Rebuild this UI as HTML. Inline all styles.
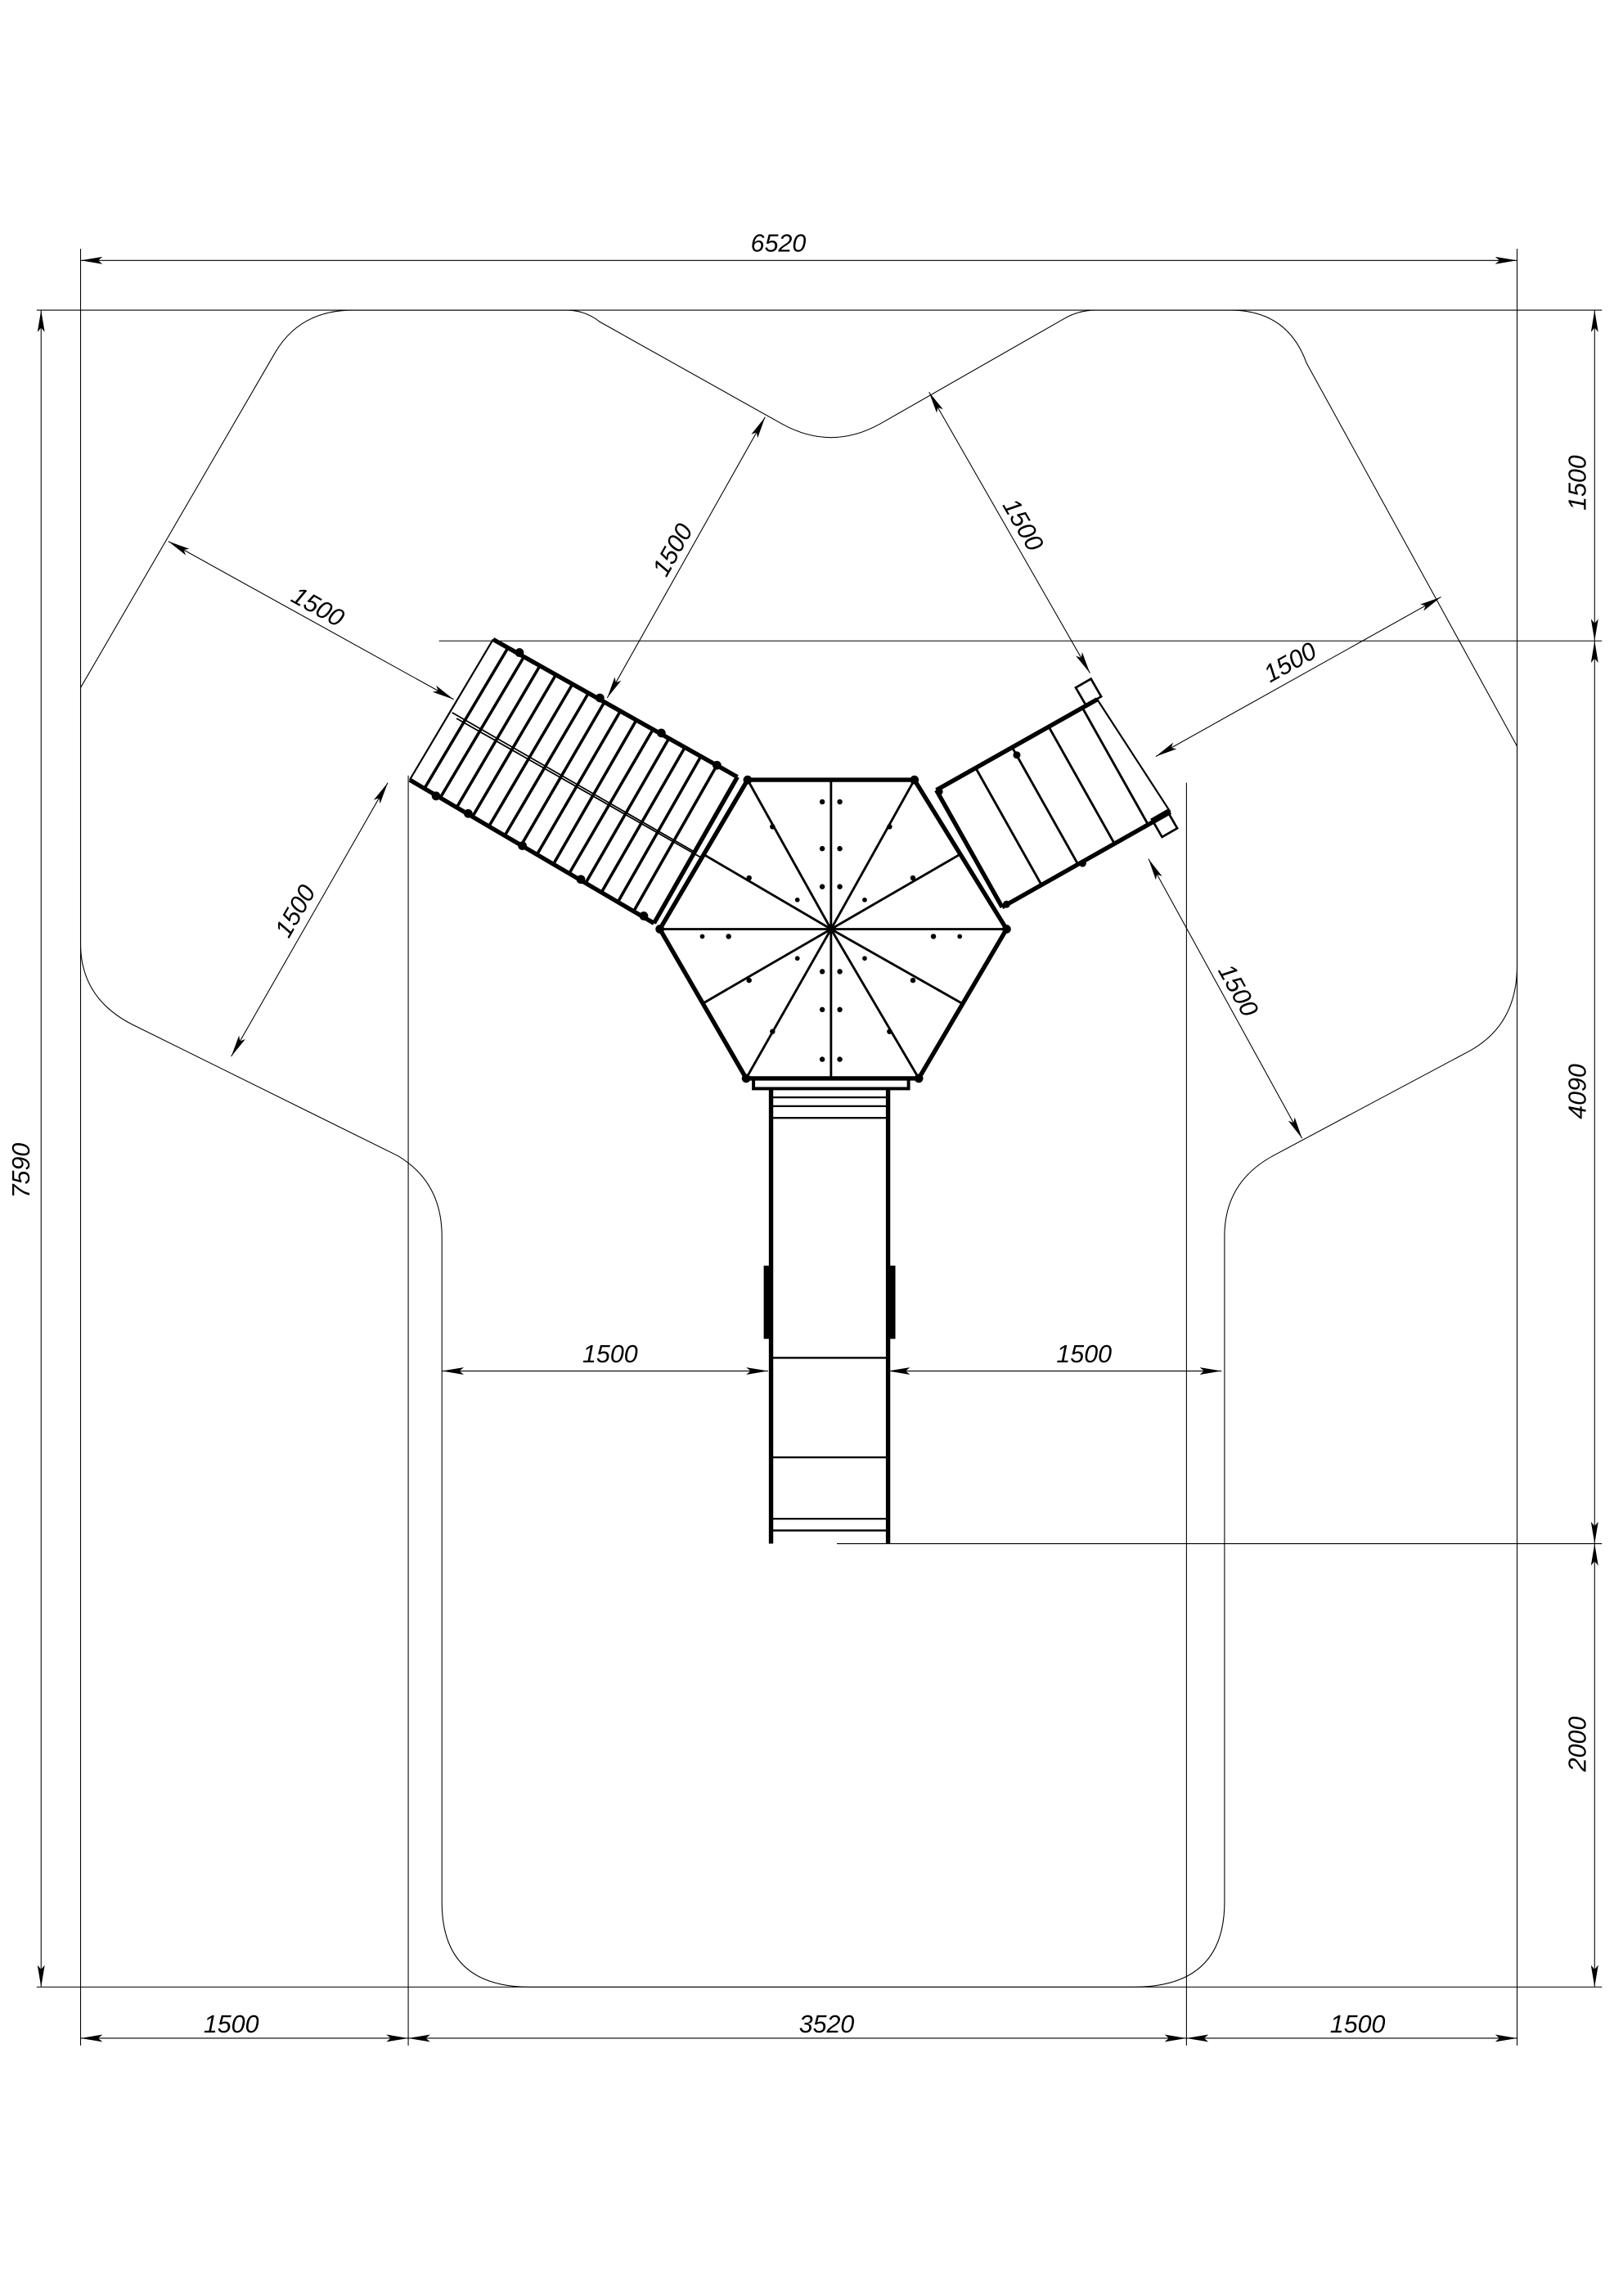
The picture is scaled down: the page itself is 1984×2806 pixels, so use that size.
<!DOCTYPE html>
<html><head><meta charset="utf-8"><style>
html,body{margin:0;padding:0;background:#fff}
svg{display:block}
text{font-family:"Liberation Sans",sans-serif;font-style:italic;font-size:17px;fill:#000}
</style></head><body>
<svg width="1984" height="2806" viewBox="0 0 1100 1556" xmlns="http://www.w3.org/2000/svg">
<defs>
<marker id="a" viewBox="0 0 15 5" refX="15" refY="2.5" markerWidth="15" markerHeight="5" markerUnits="userSpaceOnUse" orient="auto-start-reverse"><path d="M0,0 L15,2.5 L0,5 L3,2.5 Z" fill="#000"/></marker>
</defs>
<g transform="scale(0.9916)">
<g fill="none" stroke="#000" stroke-width="0.6">
<path d="M241,212 L387,212 Q400,212 410,220 L535,290 Q568,308 601,290 L727,218 Q737,212 749,212 L841,212 Q880,212 893,248 L1037,510 L1037,660 Q1037,700 1005,718 L870,790 Q837,808 837,845 L837,1300 Q837,1358 775,1358 L362,1358 Q302,1358 302,1300 L302,845 Q302,808 272,790 L90,700 Q55,682 55,645 L55,470 L188,241 Q205,212 241,212 Z"/>
<line x1="25" y1="212" x2="1095" y2="212"/>
<line x1="25" y1="1358" x2="1095" y2="1358"/>
<line x1="55" y1="170" x2="55" y2="1398"/>
<line x1="1037" y1="170" x2="1037" y2="1398"/>
<line x1="279" y1="530" x2="279" y2="1398"/>
<line x1="811" y1="535" x2="811" y2="1398"/>
<line x1="300" y1="438" x2="1095" y2="438"/>
<line x1="572" y1="1055" x2="1095" y2="1055"/>
<g marker-start="url(#a)" marker-end="url(#a)">
<line x1="55" y1="178" x2="1037" y2="178"/>
<line x1="28" y1="212" x2="28" y2="1358"/>
<line x1="1090" y1="212" x2="1090" y2="438"/>
<line x1="1090" y1="438" x2="1090" y2="1055"/>
<line x1="1090" y1="1055" x2="1090" y2="1358"/>
<line x1="55" y1="1393" x2="279" y2="1393"/>
<line x1="279" y1="1393" x2="811" y2="1393"/>
<line x1="811" y1="1393" x2="1037" y2="1393"/>
<line x1="302" y1="937" x2="525" y2="937"/>
<line x1="607" y1="937" x2="835" y2="937"/>
<line x1="115" y1="370" x2="310" y2="478"/>
<line x1="523" y1="285" x2="415" y2="477"/>
<line x1="635" y1="268" x2="745" y2="460"/>
<line x1="985" y1="408" x2="790" y2="517"/>
<line x1="265" y1="535" x2="158" y2="722"/>
<line x1="785" y1="587" x2="890" y2="778"/>
</g>
</g>
<text x="532" y="172" text-anchor="middle">6520</text>
<text transform="translate(20,800) rotate(-90)" text-anchor="middle">7590</text>
<text transform="translate(1084,330) rotate(-90)" text-anchor="middle">1500</text>
<text transform="translate(1084,746) rotate(-90)" text-anchor="middle">4090</text>
<text transform="translate(1084,1192) rotate(-90)" text-anchor="middle">2000</text>
<text x="158" y="1389" text-anchor="middle">1500</text>
<text x="565" y="1389" text-anchor="middle">3520</text>
<text x="928" y="1389" text-anchor="middle">1500</text>
<text x="417" y="931" text-anchor="middle">1500</text>
<text x="741" y="931" text-anchor="middle">1500</text>
<text transform="translate(212,424) rotate(29)" text-anchor="middle" y="-5">1500</text>
<text transform="translate(469,381) rotate(-60.6)" text-anchor="middle" y="-5">1500</text>
<text transform="translate(690,364) rotate(60)" text-anchor="middle" y="-5">1500</text>
<text transform="translate(887,462) rotate(-29)" text-anchor="middle" y="-5">1500</text>
<text transform="translate(211,628) rotate(-60)" text-anchor="middle" y="-5">1500</text>
<text transform="translate(837,682) rotate(61)" text-anchor="middle" y="-5">1500</text>

<g stroke="#000" fill="none">
<polygon points="511,533 625,533 688,635 628,737 510,737 451,635" stroke-width="3"/>
<g stroke-width="1.6">
<line x1="568" y1="635" x2="511" y2="533"/><line x1="568" y1="635" x2="625" y2="533"/>
<line x1="568" y1="635" x2="688" y2="635"/><line x1="568" y1="635" x2="628" y2="737"/>
<line x1="568" y1="635" x2="510" y2="737"/><line x1="568" y1="635" x2="451" y2="635"/>
<line x1="568" y1="635" x2="568" y2="533"/><line x1="568" y1="635" x2="568" y2="737"/>
<line x1="568" y1="635" x2="656" y2="584"/><line x1="568" y1="635" x2="658" y2="686"/>
<line x1="568" y1="635" x2="480" y2="686"/><line x1="568" y1="635" x2="481" y2="584"/>
</g>
</g>
<g fill="#000">
<circle cx="562" cy="548" r="1.8"/><circle cx="574" cy="548" r="1.8"/>
<circle cx="562" cy="580" r="1.8"/><circle cx="574" cy="580" r="1.8"/>
<circle cx="562" cy="606" r="1.8"/><circle cx="574" cy="606" r="1.8"/>
<circle cx="562" cy="664" r="1.8"/><circle cx="574" cy="664" r="1.8"/>
<circle cx="562" cy="690" r="1.8"/><circle cx="574" cy="690" r="1.8"/>
<circle cx="562" cy="724" r="1.8"/><circle cx="574" cy="724" r="1.8"/>
<circle cx="528" cy="565" r="1.8"/><circle cx="608" cy="565" r="1.8"/>
<circle cx="512" cy="600" r="1.8"/><circle cx="624" cy="600" r="1.8"/>
<circle cx="498" cy="640" r="1.8"/><circle cx="638" cy="640" r="1.8"/>
<circle cx="512" cy="670" r="1.8"/><circle cx="624" cy="670" r="1.8"/>
<circle cx="528" cy="705" r="1.8"/><circle cx="608" cy="705" r="1.8"/>
<circle cx="545" cy="615" r="1.6"/><circle cx="591" cy="615" r="1.6"/>
<circle cx="545" cy="655" r="1.6"/><circle cx="591" cy="655" r="1.6"/>
<circle cx="480" cy="640" r="1.6"/><circle cx="656" cy="640" r="1.6"/>
<circle cx="511" cy="533" r="3"/><circle cx="625" cy="533" r="3"/><circle cx="688" cy="635" r="3"/>
<circle cx="628" cy="737" r="3"/><circle cx="510" cy="737" r="3"/><circle cx="451" cy="635" r="3"/>
</g>

<g stroke="#000" fill="none">
<rect x="515" y="737" width="106" height="7" stroke-width="2.2"/>
<line x1="527" y1="744" x2="527" y2="1055" stroke-width="3"/>
<line x1="607" y1="744" x2="607" y2="1055" stroke-width="3"/>
<g stroke-width="1.3">
<line x1="527" y1="750" x2="607" y2="750"/><line x1="527" y1="756" x2="607" y2="756"/>
<line x1="527" y1="764" x2="607" y2="764"/>
<line x1="527" y1="928" x2="607" y2="928"/><line x1="527" y1="996" x2="607" y2="996"/>
<line x1="527" y1="1038" x2="607" y2="1038"/><line x1="527" y1="1046" x2="607" y2="1046"/>
</g>
<line x1="524" y1="865" x2="524" y2="915" stroke-width="4"/>
<line x1="610" y1="865" x2="610" y2="915" stroke-width="4"/>
</g>

<g stroke="#000" fill="none">
<line x1="337" y1="437" x2="504" y2="531" stroke-width="3"/>
<line x1="280" y1="533" x2="447" y2="631" stroke-width="3"/>
<line x1="337" y1="437" x2="280" y2="533" stroke-width="1.2"/>
<line x1="504" y1="531" x2="447" y2="631" stroke-width="3"/>
<line x1="309" y1="487" x2="476" y2="583" stroke-width="1"/>
<line x1="312" y1="491" x2="479" y2="586" stroke-width="1"/>
<g stroke-width="2">
<line x1="347" y1="443" x2="290" y2="539"/><line x1="358" y1="449" x2="301" y2="545"/>
<line x1="369" y1="455" x2="312" y2="552"/><line x1="380" y1="461" x2="323" y2="558"/>
<line x1="391" y1="468" x2="334" y2="565"/><line x1="402" y1="474" x2="345" y2="571"/>
<line x1="413" y1="480" x2="356" y2="578"/><line x1="424" y1="486" x2="367" y2="584"/>
<line x1="435" y1="492" x2="378" y2="591"/><line x1="446" y1="499" x2="389" y2="597"/>
<line x1="457" y1="505" x2="400" y2="604"/><line x1="468" y1="511" x2="411" y2="610"/>
<line x1="479" y1="517" x2="422" y2="617"/><line x1="490" y1="523" x2="433" y2="623"/>
</g>
</g>
<g fill="#000">
<circle cx="355" cy="446" r="3"/><circle cx="410" cy="477" r="3"/><circle cx="452" cy="501" r="3"/><circle cx="490" cy="523" r="3"/>
<circle cx="298" cy="544" r="3"/><circle cx="320" cy="556" r="3"/><circle cx="357" cy="578" r="3"/><circle cx="397" cy="601" r="3"/><circle cx="440" cy="626" r="3"/>
</g>

<g stroke="#000" fill="none">
<line x1="640" y1="540" x2="750" y2="478" stroke-width="3"/>
<line x1="685" y1="620" x2="800" y2="555" stroke-width="3"/>
<line x1="640" y1="540" x2="685" y2="620" stroke-width="3"/>
<line x1="750" y1="478" x2="800" y2="555" stroke-width="1.2"/>
<g stroke-width="1.6">
<line x1="667" y1="525" x2="712" y2="605"/><line x1="692" y1="511" x2="737" y2="591"/>
<line x1="717" y1="497" x2="762" y2="577"/><line x1="740" y1="484" x2="785" y2="564"/>
</g>
<rect x="738" y="466" width="12" height="14" stroke-width="1.5" transform="rotate(-30 744 473)"/>
<rect x="790" y="556" width="12" height="14" stroke-width="1.5" transform="rotate(-30 796 563)"/>
</g>
<g fill="#000">
<circle cx="695" cy="516" r="2.5"/><circle cx="740" cy="590" r="2.5"/><circle cx="642" cy="541" r="2.5"/><circle cx="688" cy="618" r="2.5"/>
</g>
</g>
</svg>
</body></html>
